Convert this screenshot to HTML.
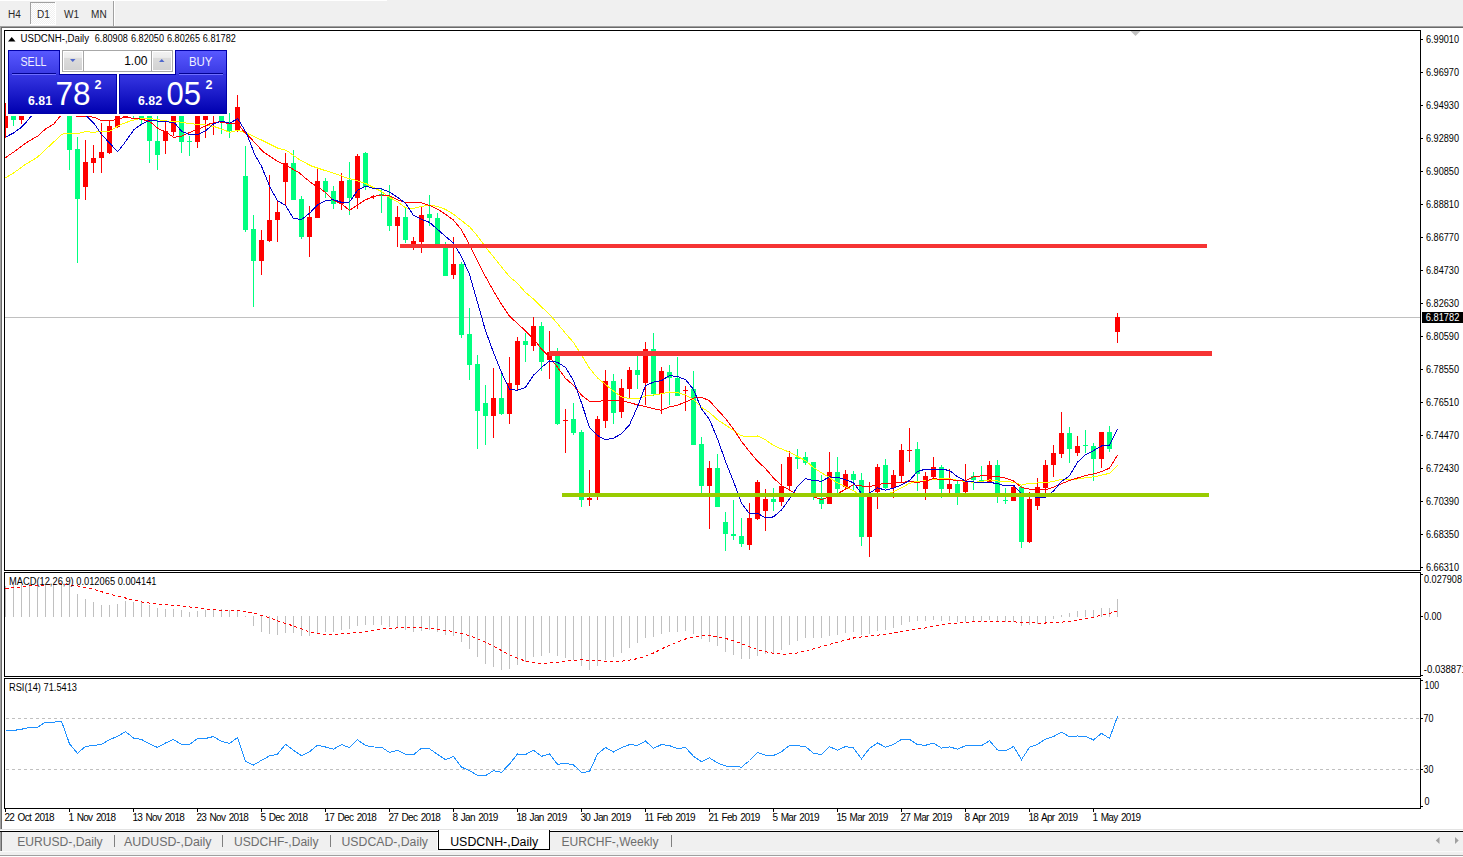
<!DOCTYPE html><html><head><meta charset="utf-8"><title>USDCNH-,Daily</title><style>html,body{margin:0;padding:0;background:#f0f0f0;overflow:hidden}svg{display:block}text{font-family:"Liberation Sans",Arial,sans-serif}</style></head><body>
<svg width="1463" height="857" viewBox="0 0 1463 857">
<defs><pattern id="dith" width="2" height="2" patternUnits="userSpaceOnUse"><rect width="2" height="2" fill="#f0f0f0"/><rect width="1" height="1" fill="#fff"/><rect x="1" y="1" width="1" height="1" fill="#fff"/></pattern><linearGradient id="gbtn" x1="0" y1="0" x2="0" y2="1"><stop offset="0" stop-color="#5858ff"/><stop offset="1" stop-color="#3a3ae4"/></linearGradient><linearGradient id="gbox" x1="0" y1="0" x2="0" y2="1"><stop offset="0" stop-color="#3636e2"/><stop offset="1" stop-color="#0000b0"/></linearGradient><linearGradient id="gspin" x1="0" y1="0" x2="0" y2="1"><stop offset="0" stop-color="#f2f2f2"/><stop offset="0.3" stop-color="#ececec"/><stop offset="0.34" stop-color="#dcdcdc"/><stop offset="1" stop-color="#d2d2d2"/></linearGradient><clipPath id="cmain"><rect x="5" y="31" width="1415" height="539"/></clipPath><clipPath id="cmacd"><rect x="5" y="573" width="1415" height="103"/></clipPath><clipPath id="crsi"><rect x="5" y="679" width="1415" height="129"/></clipPath></defs>
<g shape-rendering="crispEdges">
<rect x="0" y="0" width="1463" height="857" fill="#f0f0f0"/>
<rect x="0" y="0" width="387" height="1" fill="#fff"/>
<rect x="30" y="2" width="26" height="22" fill="url(#dith)"/>
<rect x="30" y="2" width="25" height="1" fill="#a0a0a0"/><rect x="30" y="2" width="1" height="22" fill="#a0a0a0"/>
<rect x="55" y="2" width="1" height="23" fill="#fff"/><rect x="30" y="24" width="26" height="1" fill="#fff"/>
<rect x="113" y="1" width="1" height="25" fill="#a0a0a0"/><rect x="114" y="1" width="1" height="25" fill="#fff"/>
</g>
<text x="8" y="18" font-size="10" fill="#2a2a2a" letter-spacing="0.1">H4</text>
<text x="37" y="18" font-size="10" fill="#2a2a2a" letter-spacing="0.1">D1</text>
<text x="64" y="18" font-size="10" fill="#2a2a2a" letter-spacing="0.1">W1</text>
<text x="91" y="18" font-size="10" fill="#2a2a2a" letter-spacing="0.1">MN</text>
<g shape-rendering="crispEdges">
<rect x="0" y="26" width="1463" height="1" fill="#a0a0a0"/><rect x="0" y="27" width="1463" height="1" fill="#696969"/>
<rect x="0" y="26" width="1" height="803" fill="#a0a0a0"/><rect x="1" y="27" width="1" height="802" fill="#696969"/>
<rect x="2" y="28" width="1461" height="801" fill="#fff"/>
<rect x="4" y="30" width="1417" height="1" fill="#000"/><rect x="4" y="570" width="1417" height="1" fill="#000"/>
<rect x="4" y="30" width="1" height="541" fill="#000"/><rect x="1420" y="30" width="1" height="541" fill="#000"/>
<rect x="4" y="572" width="1417" height="1" fill="#000"/><rect x="4" y="676" width="1417" height="1" fill="#000"/>
<rect x="4" y="572" width="1" height="105" fill="#000"/><rect x="1420" y="572" width="1" height="105" fill="#000"/>
<rect x="4" y="678" width="1417" height="1" fill="#000"/><rect x="4" y="808" width="1417" height="1" fill="#000"/>
<rect x="4" y="678" width="1" height="131" fill="#000"/><rect x="1420" y="678" width="1" height="131" fill="#000"/>
</g>
<g clip-path="url(#cmain)">
<rect x="5" y="317" width="1415" height="1" fill="#c0c0c0" shape-rendering="crispEdges"/>
<g shape-rendering="crispEdges">
<rect x="5" y="103" width="1" height="35" fill="#ff0000"/>
<rect x="3" y="116" width="5" height="12" fill="#ff0000"/>
<rect x="13" y="98" width="1" height="28" fill="#00ff7f"/>
<rect x="11" y="100" width="5" height="20" fill="#00ff7f"/>
<rect x="21" y="98" width="1" height="26" fill="#ff0000"/>
<rect x="19" y="100" width="5" height="20" fill="#ff0000"/>
<rect x="29" y="96" width="1" height="14" fill="#00ff7f"/>
<rect x="27" y="99" width="5" height="7" fill="#00ff7f"/>
<rect x="37" y="95" width="1" height="14" fill="#ff0000"/>
<rect x="35" y="98" width="5" height="6" fill="#ff0000"/>
<rect x="45" y="92" width="1" height="16" fill="#00ff7f"/>
<rect x="43" y="96" width="5" height="7" fill="#00ff7f"/>
<rect x="53" y="94" width="1" height="13" fill="#ff0000"/>
<rect x="51" y="97" width="5" height="5" fill="#ff0000"/>
<rect x="61" y="93" width="1" height="13" fill="#00ff7f"/>
<rect x="59" y="95" width="5" height="6" fill="#00ff7f"/>
<rect x="69" y="90" width="1" height="80" fill="#00ff7f"/>
<rect x="67" y="95" width="5" height="55" fill="#00ff7f"/>
<rect x="77" y="137" width="1" height="126" fill="#00ff7f"/>
<rect x="75" y="149" width="5" height="50" fill="#00ff7f"/>
<rect x="85" y="140" width="1" height="60" fill="#ff0000"/>
<rect x="83" y="162" width="5" height="25" fill="#ff0000"/>
<rect x="93" y="145" width="1" height="28" fill="#ff0000"/>
<rect x="91" y="158" width="5" height="5" fill="#ff0000"/>
<rect x="101" y="123" width="1" height="50" fill="#ff0000"/>
<rect x="99" y="152" width="5" height="6" fill="#ff0000"/>
<rect x="109" y="120" width="1" height="34" fill="#ff0000"/>
<rect x="107" y="126" width="5" height="27" fill="#ff0000"/>
<rect x="117" y="100" width="1" height="28" fill="#ff0000"/>
<rect x="115" y="105" width="5" height="22" fill="#ff0000"/>
<rect x="125" y="108" width="1" height="10" fill="#ff0000"/>
<rect x="123" y="113" width="5" height="4" fill="#ff0000"/>
<rect x="133" y="100" width="1" height="18" fill="#00ff7f"/>
<rect x="131" y="105" width="5" height="10" fill="#00ff7f"/>
<rect x="141" y="100" width="1" height="25" fill="#00ff7f"/>
<rect x="139" y="105" width="5" height="15" fill="#00ff7f"/>
<rect x="149" y="100" width="1" height="63" fill="#00ff7f"/>
<rect x="147" y="105" width="5" height="36" fill="#00ff7f"/>
<rect x="157" y="116" width="1" height="54" fill="#00ff7f"/>
<rect x="155" y="141" width="5" height="14" fill="#00ff7f"/>
<rect x="165" y="122" width="1" height="32" fill="#ff0000"/>
<rect x="163" y="131" width="5" height="10" fill="#ff0000"/>
<rect x="173" y="100" width="1" height="36" fill="#ff0000"/>
<rect x="171" y="105" width="5" height="27" fill="#ff0000"/>
<rect x="181" y="100" width="1" height="53" fill="#00ff7f"/>
<rect x="179" y="110" width="5" height="32" fill="#00ff7f"/>
<rect x="189" y="136" width="1" height="20" fill="#00ff7f"/>
<rect x="187" y="141" width="5" height="1" fill="#00ff7f"/>
<rect x="197" y="100" width="1" height="48" fill="#ff0000"/>
<rect x="195" y="110" width="5" height="32" fill="#ff0000"/>
<rect x="205" y="100" width="1" height="38" fill="#ff0000"/>
<rect x="203" y="105" width="5" height="15" fill="#ff0000"/>
<rect x="213" y="98" width="1" height="37" fill="#ff0000"/>
<rect x="211" y="100" width="5" height="10" fill="#ff0000"/>
<rect x="221" y="100" width="1" height="34" fill="#00ff7f"/>
<rect x="219" y="105" width="5" height="16" fill="#00ff7f"/>
<rect x="229" y="113" width="1" height="25" fill="#00ff7f"/>
<rect x="227" y="124" width="5" height="7" fill="#00ff7f"/>
<rect x="237" y="95" width="1" height="37" fill="#ff0000"/>
<rect x="235" y="107" width="5" height="23" fill="#ff0000"/>
<rect x="245" y="146" width="1" height="86" fill="#00ff7f"/>
<rect x="243" y="176" width="5" height="54" fill="#00ff7f"/>
<rect x="253" y="215" width="1" height="92" fill="#00ff7f"/>
<rect x="251" y="229" width="5" height="32" fill="#00ff7f"/>
<rect x="261" y="230" width="1" height="45" fill="#ff0000"/>
<rect x="259" y="240" width="5" height="21" fill="#ff0000"/>
<rect x="269" y="175" width="1" height="67" fill="#ff0000"/>
<rect x="267" y="220" width="5" height="21" fill="#ff0000"/>
<rect x="277" y="201" width="1" height="41" fill="#ff0000"/>
<rect x="275" y="212" width="5" height="8" fill="#ff0000"/>
<rect x="285" y="153" width="1" height="53" fill="#ff0000"/>
<rect x="283" y="163" width="5" height="19" fill="#ff0000"/>
<rect x="293" y="150" width="1" height="50" fill="#00ff7f"/>
<rect x="291" y="163" width="5" height="37" fill="#00ff7f"/>
<rect x="301" y="196" width="1" height="43" fill="#00ff7f"/>
<rect x="299" y="199" width="5" height="38" fill="#00ff7f"/>
<rect x="309" y="206" width="1" height="51" fill="#ff0000"/>
<rect x="307" y="217" width="5" height="20" fill="#ff0000"/>
<rect x="317" y="167" width="1" height="51" fill="#ff0000"/>
<rect x="315" y="181" width="5" height="37" fill="#ff0000"/>
<rect x="325" y="178" width="1" height="20" fill="#00ff7f"/>
<rect x="323" y="181" width="5" height="11" fill="#00ff7f"/>
<rect x="333" y="186" width="1" height="23" fill="#00ff7f"/>
<rect x="331" y="191" width="5" height="13" fill="#00ff7f"/>
<rect x="341" y="173" width="1" height="37" fill="#ff0000"/>
<rect x="339" y="181" width="5" height="23" fill="#ff0000"/>
<rect x="349" y="162" width="1" height="53" fill="#00ff7f"/>
<rect x="347" y="180" width="5" height="18" fill="#00ff7f"/>
<rect x="357" y="154" width="1" height="55" fill="#ff0000"/>
<rect x="355" y="156" width="5" height="42" fill="#ff0000"/>
<rect x="365" y="152" width="1" height="38" fill="#00ff7f"/>
<rect x="363" y="153" width="5" height="34" fill="#00ff7f"/>
<rect x="373" y="195" width="1" height="4" fill="#ff0000"/>
<rect x="371" y="196" width="5" height="1" fill="#ff0000"/>
<rect x="381" y="189" width="1" height="24" fill="#00ff7f"/>
<rect x="379" y="194" width="5" height="2" fill="#00ff7f"/>
<rect x="389" y="185" width="1" height="46" fill="#00ff7f"/>
<rect x="387" y="196" width="5" height="30" fill="#00ff7f"/>
<rect x="397" y="206" width="1" height="41" fill="#ff0000"/>
<rect x="395" y="217" width="5" height="9" fill="#ff0000"/>
<rect x="405" y="208" width="1" height="35" fill="#00ff7f"/>
<rect x="403" y="217" width="5" height="23" fill="#00ff7f"/>
<rect x="413" y="237" width="1" height="13" fill="#ff0000"/>
<rect x="411" y="241" width="5" height="3" fill="#ff0000"/>
<rect x="421" y="207" width="1" height="46" fill="#ff0000"/>
<rect x="419" y="215" width="5" height="27" fill="#ff0000"/>
<rect x="429" y="195" width="1" height="31" fill="#00ff7f"/>
<rect x="427" y="214" width="5" height="4" fill="#00ff7f"/>
<rect x="437" y="213" width="1" height="35" fill="#00ff7f"/>
<rect x="435" y="218" width="5" height="27" fill="#00ff7f"/>
<rect x="445" y="242" width="1" height="34" fill="#00ff7f"/>
<rect x="443" y="247" width="5" height="29" fill="#00ff7f"/>
<rect x="453" y="237" width="1" height="42" fill="#ff0000"/>
<rect x="451" y="264" width="5" height="11" fill="#ff0000"/>
<rect x="461" y="262" width="1" height="76" fill="#00ff7f"/>
<rect x="459" y="264" width="5" height="71" fill="#00ff7f"/>
<rect x="469" y="308" width="1" height="72" fill="#00ff7f"/>
<rect x="467" y="334" width="5" height="31" fill="#00ff7f"/>
<rect x="477" y="355" width="1" height="94" fill="#00ff7f"/>
<rect x="475" y="364" width="5" height="47" fill="#00ff7f"/>
<rect x="485" y="385" width="1" height="60" fill="#00ff7f"/>
<rect x="483" y="403" width="5" height="13" fill="#00ff7f"/>
<rect x="493" y="368" width="1" height="70" fill="#ff0000"/>
<rect x="491" y="398" width="5" height="18" fill="#ff0000"/>
<rect x="501" y="372" width="1" height="43" fill="#00ff7f"/>
<rect x="499" y="398" width="5" height="16" fill="#00ff7f"/>
<rect x="509" y="357" width="1" height="67" fill="#ff0000"/>
<rect x="507" y="383" width="5" height="31" fill="#ff0000"/>
<rect x="517" y="337" width="1" height="53" fill="#ff0000"/>
<rect x="515" y="341" width="5" height="44" fill="#ff0000"/>
<rect x="525" y="333" width="1" height="29" fill="#00ff7f"/>
<rect x="523" y="341" width="5" height="4" fill="#00ff7f"/>
<rect x="533" y="317" width="1" height="34" fill="#ff0000"/>
<rect x="531" y="326" width="5" height="20" fill="#ff0000"/>
<rect x="541" y="322" width="1" height="49" fill="#00ff7f"/>
<rect x="539" y="326" width="5" height="36" fill="#00ff7f"/>
<rect x="549" y="331" width="1" height="48" fill="#ff0000"/>
<rect x="547" y="352" width="5" height="8" fill="#ff0000"/>
<rect x="557" y="348" width="1" height="77" fill="#00ff7f"/>
<rect x="555" y="356" width="5" height="68" fill="#00ff7f"/>
<rect x="565" y="409" width="1" height="44" fill="#ff0000"/>
<rect x="563" y="420" width="5" height="1" fill="#ff0000"/>
<rect x="573" y="403" width="1" height="32" fill="#00ff7f"/>
<rect x="571" y="419" width="5" height="14" fill="#00ff7f"/>
<rect x="581" y="430" width="1" height="77" fill="#00ff7f"/>
<rect x="579" y="432" width="5" height="68" fill="#00ff7f"/>
<rect x="589" y="470" width="1" height="36" fill="#ff0000"/>
<rect x="587" y="498" width="5" height="2" fill="#ff0000"/>
<rect x="597" y="416" width="1" height="84" fill="#ff0000"/>
<rect x="595" y="419" width="5" height="78" fill="#ff0000"/>
<rect x="605" y="370" width="1" height="58" fill="#ff0000"/>
<rect x="603" y="381" width="5" height="40" fill="#ff0000"/>
<rect x="613" y="374" width="1" height="50" fill="#00ff7f"/>
<rect x="611" y="381" width="5" height="32" fill="#00ff7f"/>
<rect x="621" y="379" width="1" height="39" fill="#ff0000"/>
<rect x="619" y="388" width="5" height="24" fill="#ff0000"/>
<rect x="629" y="367" width="1" height="31" fill="#ff0000"/>
<rect x="627" y="370" width="5" height="19" fill="#ff0000"/>
<rect x="637" y="356" width="1" height="33" fill="#00ff7f"/>
<rect x="635" y="370" width="5" height="5" fill="#00ff7f"/>
<rect x="645" y="342" width="1" height="63" fill="#ff0000"/>
<rect x="643" y="349" width="5" height="34" fill="#ff0000"/>
<rect x="653" y="333" width="1" height="63" fill="#00ff7f"/>
<rect x="651" y="349" width="5" height="45" fill="#00ff7f"/>
<rect x="661" y="367" width="1" height="47" fill="#ff0000"/>
<rect x="659" y="371" width="5" height="23" fill="#ff0000"/>
<rect x="669" y="365" width="1" height="40" fill="#00ff7f"/>
<rect x="667" y="372" width="5" height="6" fill="#00ff7f"/>
<rect x="677" y="357" width="1" height="39" fill="#00ff7f"/>
<rect x="675" y="378" width="5" height="18" fill="#00ff7f"/>
<rect x="685" y="386" width="1" height="25" fill="#ff0000"/>
<rect x="683" y="390" width="5" height="1" fill="#ff0000"/>
<rect x="693" y="371" width="1" height="74" fill="#00ff7f"/>
<rect x="691" y="389" width="5" height="56" fill="#00ff7f"/>
<rect x="701" y="437" width="1" height="56" fill="#00ff7f"/>
<rect x="699" y="444" width="5" height="42" fill="#00ff7f"/>
<rect x="709" y="461" width="1" height="68" fill="#ff0000"/>
<rect x="707" y="468" width="5" height="18" fill="#ff0000"/>
<rect x="717" y="454" width="1" height="53" fill="#00ff7f"/>
<rect x="715" y="468" width="5" height="39" fill="#00ff7f"/>
<rect x="725" y="512" width="1" height="39" fill="#00ff7f"/>
<rect x="723" y="522" width="5" height="12" fill="#00ff7f"/>
<rect x="733" y="500" width="1" height="40" fill="#00ff7f"/>
<rect x="731" y="534" width="5" height="2" fill="#00ff7f"/>
<rect x="741" y="518" width="1" height="29" fill="#00ff7f"/>
<rect x="739" y="536" width="5" height="8" fill="#00ff7f"/>
<rect x="749" y="503" width="1" height="47" fill="#ff0000"/>
<rect x="747" y="518" width="5" height="27" fill="#ff0000"/>
<rect x="757" y="480" width="1" height="40" fill="#ff0000"/>
<rect x="755" y="482" width="5" height="37" fill="#ff0000"/>
<rect x="765" y="489" width="1" height="42" fill="#ff0000"/>
<rect x="763" y="499" width="5" height="12" fill="#ff0000"/>
<rect x="773" y="488" width="1" height="23" fill="#00ff7f"/>
<rect x="771" y="499" width="5" height="3" fill="#00ff7f"/>
<rect x="781" y="464" width="1" height="42" fill="#ff0000"/>
<rect x="779" y="486" width="5" height="16" fill="#ff0000"/>
<rect x="789" y="451" width="1" height="38" fill="#ff0000"/>
<rect x="787" y="457" width="5" height="29" fill="#ff0000"/>
<rect x="797" y="449" width="1" height="20" fill="#00ff7f"/>
<rect x="795" y="457" width="5" height="2" fill="#00ff7f"/>
<rect x="805" y="452" width="1" height="13" fill="#00ff7f"/>
<rect x="803" y="457" width="5" height="6" fill="#00ff7f"/>
<rect x="813" y="462" width="1" height="38" fill="#00ff7f"/>
<rect x="811" y="462" width="5" height="33" fill="#00ff7f"/>
<rect x="821" y="475" width="1" height="34" fill="#00ff7f"/>
<rect x="819" y="498" width="5" height="6" fill="#00ff7f"/>
<rect x="829" y="452" width="1" height="52" fill="#ff0000"/>
<rect x="827" y="472" width="5" height="32" fill="#ff0000"/>
<rect x="837" y="457" width="1" height="36" fill="#00ff7f"/>
<rect x="835" y="472" width="5" height="17" fill="#00ff7f"/>
<rect x="845" y="470" width="1" height="19" fill="#ff0000"/>
<rect x="843" y="474" width="5" height="13" fill="#ff0000"/>
<rect x="853" y="471" width="1" height="19" fill="#00ff7f"/>
<rect x="851" y="474" width="5" height="6" fill="#00ff7f"/>
<rect x="861" y="473" width="1" height="73" fill="#00ff7f"/>
<rect x="859" y="480" width="5" height="57" fill="#00ff7f"/>
<rect x="869" y="482" width="1" height="75" fill="#ff0000"/>
<rect x="867" y="493" width="5" height="44" fill="#ff0000"/>
<rect x="877" y="464" width="1" height="45" fill="#ff0000"/>
<rect x="875" y="467" width="5" height="25" fill="#ff0000"/>
<rect x="885" y="459" width="1" height="30" fill="#00ff7f"/>
<rect x="883" y="465" width="5" height="23" fill="#00ff7f"/>
<rect x="893" y="470" width="1" height="28" fill="#ff0000"/>
<rect x="891" y="475" width="5" height="13" fill="#ff0000"/>
<rect x="901" y="444" width="1" height="38" fill="#ff0000"/>
<rect x="899" y="450" width="5" height="26" fill="#ff0000"/>
<rect x="909" y="428" width="1" height="34" fill="#ff0000"/>
<rect x="907" y="450" width="5" height="1" fill="#ff0000"/>
<rect x="917" y="442" width="1" height="49" fill="#00ff7f"/>
<rect x="915" y="449" width="5" height="25" fill="#00ff7f"/>
<rect x="925" y="472" width="1" height="28" fill="#ff0000"/>
<rect x="923" y="476" width="5" height="13" fill="#ff0000"/>
<rect x="933" y="457" width="1" height="22" fill="#ff0000"/>
<rect x="931" y="467" width="5" height="10" fill="#ff0000"/>
<rect x="941" y="465" width="1" height="33" fill="#00ff7f"/>
<rect x="939" y="467" width="5" height="22" fill="#00ff7f"/>
<rect x="949" y="469" width="1" height="24" fill="#ff0000"/>
<rect x="947" y="484" width="5" height="5" fill="#ff0000"/>
<rect x="957" y="481" width="1" height="24" fill="#00ff7f"/>
<rect x="955" y="484" width="5" height="9" fill="#00ff7f"/>
<rect x="965" y="464" width="1" height="29" fill="#ff0000"/>
<rect x="963" y="481" width="5" height="11" fill="#ff0000"/>
<rect x="973" y="472" width="1" height="18" fill="#00ff7f"/>
<rect x="971" y="476" width="5" height="4" fill="#00ff7f"/>
<rect x="981" y="466" width="1" height="17" fill="#00ff7f"/>
<rect x="979" y="480" width="5" height="1" fill="#00ff7f"/>
<rect x="989" y="461" width="1" height="22" fill="#ff0000"/>
<rect x="987" y="465" width="5" height="17" fill="#ff0000"/>
<rect x="997" y="460" width="1" height="43" fill="#00ff7f"/>
<rect x="995" y="465" width="5" height="32" fill="#00ff7f"/>
<rect x="1005" y="488" width="1" height="16" fill="#00ff7f"/>
<rect x="1003" y="500" width="5" height="1" fill="#00ff7f"/>
<rect x="1013" y="485" width="1" height="16" fill="#ff0000"/>
<rect x="1011" y="487" width="5" height="14" fill="#ff0000"/>
<rect x="1021" y="485" width="1" height="63" fill="#00ff7f"/>
<rect x="1019" y="487" width="5" height="55" fill="#00ff7f"/>
<rect x="1029" y="492" width="1" height="51" fill="#ff0000"/>
<rect x="1027" y="499" width="5" height="43" fill="#ff0000"/>
<rect x="1037" y="478" width="1" height="32" fill="#ff0000"/>
<rect x="1035" y="487" width="5" height="19" fill="#ff0000"/>
<rect x="1045" y="460" width="1" height="33" fill="#ff0000"/>
<rect x="1043" y="465" width="5" height="23" fill="#ff0000"/>
<rect x="1053" y="445" width="1" height="32" fill="#ff0000"/>
<rect x="1051" y="453" width="5" height="12" fill="#ff0000"/>
<rect x="1061" y="412" width="1" height="46" fill="#ff0000"/>
<rect x="1059" y="433" width="5" height="21" fill="#ff0000"/>
<rect x="1069" y="427" width="1" height="36" fill="#00ff7f"/>
<rect x="1067" y="433" width="5" height="16" fill="#00ff7f"/>
<rect x="1077" y="436" width="1" height="20" fill="#ff0000"/>
<rect x="1075" y="446" width="5" height="7" fill="#ff0000"/>
<rect x="1085" y="430" width="1" height="23" fill="#00ff7f"/>
<rect x="1083" y="445" width="5" height="1" fill="#00ff7f"/>
<rect x="1093" y="443" width="1" height="38" fill="#00ff7f"/>
<rect x="1091" y="446" width="5" height="13" fill="#00ff7f"/>
<rect x="1101" y="432" width="1" height="36" fill="#ff0000"/>
<rect x="1099" y="432" width="5" height="27" fill="#ff0000"/>
<rect x="1109" y="426" width="1" height="26" fill="#00ff7f"/>
<rect x="1107" y="432" width="5" height="17" fill="#00ff7f"/>
<rect x="1117" y="313" width="1" height="30" fill="#ff0000"/>
<rect x="1115" y="317" width="5" height="15" fill="#ff0000"/>
</g>
<g shape-rendering="crispEdges">
<polyline points="5.5,177.7 12.8,173.6 25.1,164.6 37.4,157.2 49.7,145.7 62.0,134.3 66.1,133.4 78.4,133.4 86.6,131.4 91.5,132.4 98.9,131.8 109.6,131.4 118.6,125.6 121.4,124.4 130.3,120.9 139.2,118.7 148.1,118.2 156.9,119.6 165.8,120.9 179.2,121.8 188.1,123.4 196.9,124.3 205.8,124.9 214.7,126.7 223.6,129.8 229.8,132.4 237.8,130.2 246.5,133.1 262.3,140.4 278.0,148.3 286.4,150.4 299.0,159.3 310.9,165.8 322.8,169.8 341.0,175.6 345.5,177.6 355.3,180.0 366.7,184.1 381.5,191.5 389.5,197.5 397.5,201.6 405.5,207.9 413.5,208.4 421.5,206.3 429.5,205.2 437.5,206.4 445.5,209.4 453.5,214.2 461.5,220.6 469.5,226.7 477.5,236.0 485.5,247.1 493.5,256.9 501.5,266.9 509.5,276.6 517.5,283.4 525.5,292.4 533.5,299.0 541.5,306.9 549.5,314.3 557.5,323.7 565.5,333.3 573.5,342.5 581.5,354.9 589.5,368.3 597.5,377.9 605.5,384.4 613.5,391.0 621.5,396.9 629.5,398.5 637.5,399.0 645.5,396.1 653.5,395.0 661.5,393.8 669.5,392.0 677.5,392.6 685.5,394.9 693.5,399.7 701.5,407.3 709.5,412.4 717.5,419.8 725.5,425.0 733.5,430.5 741.5,435.9 749.5,436.7 757.5,436.0 765.5,439.8 773.5,445.5 781.5,448.9 789.5,452.2 797.5,456.5 805.5,460.6 813.5,467.6 821.5,472.8 829.5,477.6 837.5,482.9 845.5,486.6 853.5,490.9 861.5,495.3 869.5,495.6 877.5,495.6 885.5,494.7 893.5,491.8 901.5,487.8 909.5,483.3 917.5,481.2 925.5,480.9 933.5,479.4 941.5,478.8 949.5,478.7 957.5,480.4 965.5,481.5 973.5,482.3 981.5,481.6 989.5,479.8 997.5,481.0 1005.5,481.6 1013.5,482.2 1021.5,485.1 1029.5,483.3 1037.5,483.0 1045.5,482.9 1053.5,481.3 1061.5,479.3 1069.5,479.2 1077.5,479.0 1085.5,477.7 1093.5,476.9 1101.5,475.2 1109.5,473.3 1117.5,465.4" fill="none" stroke="#ffff00" stroke-width="1" />
<polyline points="5.5,157.6 12.8,152.7 21.0,146.6 29.2,140.8 37.4,136.3 45.6,128.9 53.8,124.0 60.4,116.0 68.5,108.0 76.8,116.2 86.6,116.2 94.8,117.4 100.6,120.3 112.5,120.4 120.5,118.2 125.8,117.3 132.1,118.2 139.2,118.7 148.1,120.9 152.5,123.6 157.8,128.4 165.8,132.0 173.8,137.3 181.8,136.0 189.8,132.4 197.8,129.3 205.8,125.8 210.3,123.6 219.2,121.8 229.8,123.6 237.8,123.6 242.5,129.8 251.8,139.4 263.3,151.9 278.2,161.8 285.1,164.8 299.0,172.7 310.9,182.7 318.8,187.6 325.5,192.5 333.5,200.2 341.5,203.8 349.5,210.3 357.5,205.0 365.5,199.8 373.5,196.6 381.5,194.9 389.5,195.9 397.5,199.7 405.5,202.6 413.5,202.9 421.5,202.8 429.5,205.4 437.5,209.1 445.5,214.2 453.5,220.1 461.5,229.9 469.5,244.9 477.5,260.9 485.5,276.6 493.5,291.0 501.5,304.4 509.5,316.2 517.5,323.5 525.5,330.9 533.5,338.8 541.5,349.1 549.5,356.7 557.5,367.3 565.5,378.4 573.5,385.4 581.5,395.1 589.5,401.3 597.5,401.5 605.5,400.3 613.5,400.3 621.5,400.6 629.5,402.7 637.5,404.8 645.5,406.5 653.5,408.8 661.5,410.2 669.5,406.9 677.5,405.2 685.5,402.1 693.5,398.1 701.5,397.3 709.5,400.8 717.5,409.8 725.5,418.4 733.5,429.0 741.5,441.4 749.5,451.6 757.5,461.1 765.5,468.6 773.5,477.9 781.5,485.6 789.5,490.0 797.5,494.9 805.5,496.2 813.5,496.9 821.5,499.5 829.5,496.9 837.5,493.7 845.5,489.3 853.5,484.7 861.5,486.0 869.5,486.8 877.5,484.5 885.5,483.5 893.5,482.8 901.5,482.3 909.5,481.6 917.5,482.4 925.5,481.1 933.5,478.5 941.5,479.7 949.5,479.4 957.5,480.7 965.5,480.8 973.5,476.7 981.5,475.9 989.5,475.8 997.5,476.4 1005.5,478.2 1013.5,480.9 1021.5,487.4 1029.5,489.2 1037.5,490.0 1045.5,489.8 1053.5,487.3 1061.5,483.7 1069.5,480.5 1077.5,478.0 1085.5,475.6 1093.5,473.9 1101.5,471.6 1109.5,468.2 1117.5,455.1" fill="none" stroke="#ff0000" stroke-width="1" />
<polyline points="5.5,137.1 12.8,133.4 21.0,127.7 24.3,124.4 28.4,119.5 31.3,116.0 45.5,105.0 70.5,105.0 86.6,116.0 94.8,124.4 101.4,134.3 112.5,146.2 117.8,151.6 124.1,143.6 133.8,129.8 141.8,124.0 148.1,120.9 155.2,120.9 162.3,121.3 170.3,122.2 174.7,123.1 181.8,131.6 188.9,134.2 197.8,134.7 205.8,130.7 213.8,123.6 221.8,121.3 229.8,123.1 237.8,118.7 246.5,133.1 254.9,155.1 261.3,165.8 270.2,187.6 277.5,200.7 285.5,205.3 293.5,218.5 301.5,219.5 309.5,213.3 317.5,204.9 325.5,200.8 333.5,199.7 341.5,202.3 349.5,202.0 357.5,190.4 365.5,186.2 373.5,188.3 381.5,188.9 389.5,192.1 397.5,197.2 405.5,203.2 413.5,215.4 421.5,219.3 429.5,222.4 437.5,229.4 445.5,236.4 453.5,243.1 461.5,256.7 469.5,274.4 477.5,302.4 485.5,330.7 493.5,352.5 501.5,372.4 509.5,389.4 517.5,390.3 525.5,387.4 533.5,375.2 541.5,367.5 549.5,360.9 557.5,362.3 565.5,367.5 573.5,380.5 581.5,402.8 589.5,427.3 597.5,435.5 605.5,439.7 613.5,438.2 621.5,433.7 629.5,424.8 637.5,406.8 645.5,385.6 653.5,382.1 661.5,380.6 669.5,375.6 677.5,376.6 685.5,379.5 693.5,389.5 701.5,408.9 709.5,419.5 717.5,438.9 725.5,461.3 733.5,481.3 741.5,503.3 749.5,513.8 757.5,513.3 765.5,517.8 773.5,516.9 781.5,510.0 789.5,498.8 797.5,486.6 805.5,478.7 813.5,480.5 821.5,481.2 829.5,476.9 837.5,477.4 845.5,479.7 853.5,482.8 861.5,493.4 869.5,493.1 877.5,487.9 885.5,490.1 893.5,488.2 901.5,484.8 909.5,480.5 917.5,471.5 925.5,469.1 933.5,469.1 941.5,469.2 949.5,470.5 957.5,476.7 965.5,481.1 973.5,482.0 981.5,482.7 989.5,482.4 997.5,483.6 1005.5,486.0 1013.5,485.1 1021.5,493.8 1029.5,496.5 1037.5,497.3 1045.5,497.3 1053.5,491.0 1061.5,481.3 1069.5,475.9 1077.5,462.2 1085.5,454.7 1093.5,450.6 1101.5,446.0 1109.5,445.3 1117.5,428.8" fill="none" stroke="#0000cd" stroke-width="1" />
</g>
<g shape-rendering="crispEdges">
<rect x="400" y="244" width="807" height="4" fill="#f63434"/>
<rect x="549" y="351" width="663" height="5" fill="#f63434"/>
<rect x="562" y="493" width="647" height="4" fill="#99cc00"/>
</g>
<polygon points="1130.5,31 1140.5,31 1135.5,36" fill="#c0c0c0"/>
</g>
<g clip-path="url(#cmacd)">
<g shape-rendering="crispEdges" fill="#c0c0c0">
<rect x="5" y="586" width="1" height="31"/>
<rect x="13" y="585" width="1" height="32"/>
<rect x="21" y="585" width="1" height="32"/>
<rect x="29" y="584" width="1" height="33"/>
<rect x="37" y="584" width="1" height="33"/>
<rect x="45" y="584" width="1" height="33"/>
<rect x="53" y="584" width="1" height="33"/>
<rect x="61" y="584" width="1" height="33"/>
<rect x="69" y="584" width="1" height="33"/>
<rect x="77" y="594" width="1" height="23"/>
<rect x="85" y="599" width="1" height="18"/>
<rect x="93" y="602" width="1" height="15"/>
<rect x="101" y="605" width="1" height="12"/>
<rect x="109" y="605" width="1" height="12"/>
<rect x="117" y="604" width="1" height="13"/>
<rect x="125" y="601" width="1" height="16"/>
<rect x="133" y="602" width="1" height="15"/>
<rect x="141" y="602" width="1" height="15"/>
<rect x="149" y="605" width="1" height="12"/>
<rect x="157" y="608" width="1" height="9"/>
<rect x="165" y="609" width="1" height="8"/>
<rect x="173" y="609" width="1" height="8"/>
<rect x="181" y="610" width="1" height="7"/>
<rect x="189" y="612" width="1" height="5"/>
<rect x="197" y="611" width="1" height="6"/>
<rect x="205" y="610" width="1" height="7"/>
<rect x="213" y="609" width="1" height="8"/>
<rect x="221" y="609" width="1" height="8"/>
<rect x="229" y="610" width="1" height="7"/>
<rect x="237" y="610" width="1" height="7"/>
<rect x="245" y="616" width="1" height="1"/>
<rect x="253" y="616" width="1" height="10"/>
<rect x="261" y="616" width="1" height="16"/>
<rect x="269" y="616" width="1" height="18"/>
<rect x="277" y="616" width="1" height="19"/>
<rect x="285" y="616" width="1" height="17"/>
<rect x="293" y="616" width="1" height="17"/>
<rect x="301" y="616" width="1" height="20"/>
<rect x="309" y="616" width="1" height="20"/>
<rect x="317" y="616" width="1" height="18"/>
<rect x="325" y="616" width="1" height="16"/>
<rect x="333" y="616" width="1" height="16"/>
<rect x="341" y="616" width="1" height="14"/>
<rect x="349" y="616" width="1" height="13"/>
<rect x="357" y="616" width="1" height="10"/>
<rect x="365" y="616" width="1" height="9"/>
<rect x="373" y="616" width="1" height="9"/>
<rect x="381" y="616" width="1" height="9"/>
<rect x="389" y="616" width="1" height="11"/>
<rect x="397" y="616" width="1" height="12"/>
<rect x="405" y="616" width="1" height="14"/>
<rect x="413" y="616" width="1" height="16"/>
<rect x="421" y="616" width="1" height="15"/>
<rect x="429" y="616" width="1" height="14"/>
<rect x="437" y="616" width="1" height="16"/>
<rect x="445" y="616" width="1" height="19"/>
<rect x="453" y="616" width="1" height="20"/>
<rect x="461" y="616" width="1" height="26"/>
<rect x="469" y="616" width="1" height="33"/>
<rect x="477" y="616" width="1" height="41"/>
<rect x="485" y="616" width="1" height="48"/>
<rect x="493" y="616" width="1" height="51"/>
<rect x="501" y="616" width="1" height="54"/>
<rect x="509" y="616" width="1" height="53"/>
<rect x="517" y="616" width="1" height="49"/>
<rect x="525" y="616" width="1" height="46"/>
<rect x="533" y="616" width="1" height="41"/>
<rect x="541" y="616" width="1" height="40"/>
<rect x="549" y="616" width="1" height="37"/>
<rect x="557" y="616" width="1" height="40"/>
<rect x="565" y="616" width="1" height="42"/>
<rect x="573" y="616" width="1" height="44"/>
<rect x="581" y="616" width="1" height="50"/>
<rect x="589" y="616" width="1" height="54"/>
<rect x="597" y="616" width="1" height="50"/>
<rect x="605" y="616" width="1" height="44"/>
<rect x="613" y="616" width="1" height="41"/>
<rect x="621" y="616" width="1" height="37"/>
<rect x="629" y="616" width="1" height="32"/>
<rect x="637" y="616" width="1" height="27"/>
<rect x="645" y="616" width="1" height="22"/>
<rect x="653" y="616" width="1" height="21"/>
<rect x="661" y="616" width="1" height="18"/>
<rect x="669" y="616" width="1" height="16"/>
<rect x="677" y="616" width="1" height="16"/>
<rect x="685" y="616" width="1" height="15"/>
<rect x="693" y="616" width="1" height="18"/>
<rect x="701" y="616" width="1" height="23"/>
<rect x="709" y="616" width="1" height="26"/>
<rect x="717" y="616" width="1" height="30"/>
<rect x="725" y="616" width="1" height="36"/>
<rect x="733" y="616" width="1" height="39"/>
<rect x="741" y="616" width="1" height="43"/>
<rect x="749" y="616" width="1" height="43"/>
<rect x="757" y="616" width="1" height="40"/>
<rect x="765" y="616" width="1" height="38"/>
<rect x="773" y="616" width="1" height="37"/>
<rect x="781" y="616" width="1" height="34"/>
<rect x="789" y="616" width="1" height="29"/>
<rect x="797" y="616" width="1" height="25"/>
<rect x="805" y="616" width="1" height="22"/>
<rect x="813" y="616" width="1" height="22"/>
<rect x="821" y="616" width="1" height="22"/>
<rect x="829" y="616" width="1" height="20"/>
<rect x="837" y="616" width="1" height="19"/>
<rect x="845" y="616" width="1" height="17"/>
<rect x="853" y="616" width="1" height="16"/>
<rect x="861" y="616" width="1" height="19"/>
<rect x="869" y="616" width="1" height="18"/>
<rect x="877" y="616" width="1" height="15"/>
<rect x="885" y="616" width="1" height="14"/>
<rect x="893" y="616" width="1" height="12"/>
<rect x="901" y="616" width="1" height="9"/>
<rect x="909" y="616" width="1" height="6"/>
<rect x="917" y="616" width="1" height="5"/>
<rect x="925" y="616" width="1" height="5"/>
<rect x="933" y="616" width="1" height="4"/>
<rect x="941" y="616" width="1" height="5"/>
<rect x="949" y="616" width="1" height="5"/>
<rect x="957" y="616" width="1" height="6"/>
<rect x="965" y="616" width="1" height="6"/>
<rect x="973" y="616" width="1" height="5"/>
<rect x="981" y="616" width="1" height="5"/>
<rect x="989" y="616" width="1" height="4"/>
<rect x="997" y="616" width="1" height="5"/>
<rect x="1005" y="616" width="1" height="6"/>
<rect x="1013" y="616" width="1" height="6"/>
<rect x="1021" y="616" width="1" height="10"/>
<rect x="1029" y="616" width="1" height="9"/>
<rect x="1037" y="616" width="1" height="8"/>
<rect x="1045" y="616" width="1" height="6"/>
<rect x="1053" y="616" width="1" height="3"/>
<rect x="1061" y="615" width="1" height="2"/>
<rect x="1069" y="613" width="1" height="4"/>
<rect x="1077" y="611" width="1" height="6"/>
<rect x="1085" y="610" width="1" height="7"/>
<rect x="1093" y="610" width="1" height="7"/>
<rect x="1101" y="608" width="1" height="9"/>
<rect x="1109" y="608" width="1" height="9"/>
<rect x="1117" y="599" width="1" height="18"/>
</g>
<polyline points="5.5,588.5 30.5,585.9 60.0,583.9 69.5,585.1 77.5,585.9 85.5,587.5 93.5,589.4 101.5,591.7 109.5,594.0 117.5,596.1 125.5,598.0 133.5,600.0 141.5,601.9 149.5,603.1 157.5,604.1 165.5,604.9 173.5,605.3 181.5,605.9 189.5,606.9 197.5,608.0 205.5,608.9 213.5,609.7 221.5,610.2 229.5,610.4 237.5,610.5 245.5,611.4 253.5,613.1 261.5,615.3 269.5,617.9 277.5,620.7 285.5,623.4 293.5,626.0 301.5,628.9 309.5,631.8 317.5,633.7 325.5,634.4 333.5,634.4 341.5,633.9 349.5,633.3 357.5,632.5 365.5,631.6 373.5,630.4 381.5,629.2 389.5,628.4 397.5,627.9 405.5,627.7 413.5,627.8 421.5,628.0 429.5,628.5 437.5,629.2 445.5,630.3 453.5,631.6 461.5,633.3 469.5,635.7 477.5,638.7 485.5,642.2 493.5,646.2 501.5,650.6 509.5,654.8 517.5,658.2 525.5,661.1 533.5,662.7 541.5,663.5 549.5,663.1 557.5,662.3 565.5,661.3 573.5,660.2 581.5,659.8 589.5,660.3 597.5,660.8 605.5,661.1 613.5,661.3 621.5,661.2 629.5,660.2 637.5,658.6 645.5,656.2 653.5,653.0 661.5,649.0 669.5,645.2 677.5,642.0 685.5,639.0 693.5,636.9 701.5,636.0 709.5,635.8 717.5,636.7 725.5,638.4 733.5,640.8 741.5,643.7 749.5,646.7 757.5,649.5 765.5,651.8 773.5,653.3 781.5,654.2 789.5,654.0 797.5,652.9 805.5,651.0 813.5,648.8 821.5,646.5 829.5,644.3 837.5,642.2 845.5,640.0 853.5,638.0 861.5,636.9 869.5,636.0 877.5,635.2 885.5,634.3 893.5,633.1 901.5,631.8 909.5,630.4 917.5,629.0 925.5,627.9 933.5,626.2 941.5,624.8 949.5,623.8 957.5,622.9 965.5,622.2 973.5,621.9 981.5,621.8 989.5,621.6 997.5,621.6 1005.5,621.8 1013.5,621.9 1021.5,622.3 1029.5,622.7 1037.5,623.0 1045.5,623.0 1053.5,622.7 1061.5,622.2 1069.5,621.3 1077.5,620.1 1085.5,618.8 1093.5,617.1 1101.5,615.2 1109.5,613.5 1117.5,610.9" fill="none" stroke="#ff0000" stroke-width="1" stroke-dasharray="3,3" shape-rendering="crispEdges"/>
</g>
<g clip-path="url(#crsi)">
<g shape-rendering="crispEdges"><line x1="6" y1="718.5" x2="1420" y2="718.5" stroke="#c0c0c0" stroke-dasharray="3,3"/><line x1="6" y1="769.5" x2="1420" y2="769.5" stroke="#c0c0c0" stroke-dasharray="3,3"/></g>
<polyline points="5.5,730.5 13.5,730.5 21.5,729.2 29.5,727.6 37.5,727.2 45.5,722.2 53.5,722.2 61.5,721.2 69.5,743.8 77.5,753.3 85.5,746.4 93.5,745.4 101.5,744.4 109.5,739.5 117.5,736.5 125.5,731.5 133.5,738.1 141.5,739.5 149.5,743.8 157.5,747.4 165.5,743.0 173.5,739.5 181.5,744.4 189.5,744.4 197.5,738.5 205.5,738.5 213.5,736.5 221.5,741.4 229.5,743.4 237.5,737.5 245.5,761.3 253.5,765.1 261.5,760.3 269.5,755.9 277.5,754.2 285.5,744.3 293.5,750.3 301.5,755.8 309.5,751.8 317.5,745.2 325.5,747.0 333.5,749.1 341.5,744.6 349.5,747.5 357.5,739.8 365.5,745.5 373.5,747.0 381.5,747.1 389.5,752.5 397.5,750.4 405.5,754.4 413.5,754.7 421.5,748.2 429.5,748.8 437.5,754.3 445.5,759.7 453.5,756.5 461.5,767.1 469.5,770.6 477.5,775.3 485.5,775.7 493.5,770.6 501.5,772.4 509.5,764.0 517.5,754.0 525.5,754.5 533.5,750.3 541.5,756.3 549.5,753.9 557.5,764.3 565.5,763.2 573.5,764.9 581.5,772.4 589.5,771.7 597.5,754.1 605.5,747.4 613.5,752.0 621.5,747.6 629.5,744.6 637.5,745.4 645.5,741.0 653.5,748.4 661.5,744.5 669.5,745.6 677.5,748.6 685.5,747.5 693.5,756.3 701.5,761.7 709.5,757.9 717.5,762.9 725.5,766.0 733.5,766.2 741.5,767.2 749.5,760.5 757.5,752.4 765.5,755.1 773.5,755.5 781.5,751.7 789.5,745.4 797.5,745.7 805.5,746.6 813.5,753.2 821.5,754.8 829.5,746.7 837.5,750.2 845.5,746.6 853.5,748.0 861.5,758.9 869.5,748.4 877.5,743.0 885.5,747.1 893.5,744.4 901.5,739.3 909.5,739.4 917.5,744.7 925.5,745.3 933.5,743.1 941.5,748.1 949.5,746.9 957.5,749.1 965.5,745.7 973.5,745.4 981.5,745.7 989.5,740.7 997.5,750.0 1005.5,750.9 1013.5,746.4 1021.5,759.6 1029.5,747.3 1037.5,744.3 1045.5,739.1 1053.5,736.5 1061.5,732.1 1069.5,736.7 1077.5,736.0 1085.5,736.2 1093.5,740.0 1101.5,733.3 1109.5,738.4 1117.5,716.4" fill="none" stroke="#1e90ff" stroke-width="1" shape-rendering="crispEdges"/>
</g>
<polygon points="8,41.5 15.5,41.5 11.75,37" fill="#000"/>
<text x="20.5" y="41.7" font-size="10" fill="#000" textLength="68.5" lengthAdjust="spacingAndGlyphs">USDCNH-,Daily</text>
<text x="94.8" y="41.7" font-size="10" fill="#000" textLength="33" lengthAdjust="spacingAndGlyphs">6.80908</text>
<text x="131" y="41.7" font-size="10" fill="#000" textLength="33" lengthAdjust="spacingAndGlyphs">6.82050</text>
<text x="167" y="41.7" font-size="10" fill="#000" textLength="33" lengthAdjust="spacingAndGlyphs">6.80265</text>
<text x="202.8" y="41.7" font-size="10" fill="#000" textLength="33" lengthAdjust="spacingAndGlyphs">6.81782</text>
<text x="9" y="584.7" font-size="10" fill="#000" textLength="147.5" lengthAdjust="spacingAndGlyphs">MACD(12,26,9) 0.012065 0.004141</text>
<text x="9" y="690.8" font-size="10" fill="#000" textLength="68" lengthAdjust="spacingAndGlyphs">RSI(14) 71.5413</text>
<g shape-rendering="crispEdges">
<rect x="1421" y="39" width="2" height="1" fill="#000"/>
<rect x="1421" y="72" width="2" height="1" fill="#000"/>
<rect x="1421" y="105" width="2" height="1" fill="#000"/>
<rect x="1421" y="138" width="2" height="1" fill="#000"/>
<rect x="1421" y="171" width="2" height="1" fill="#000"/>
<rect x="1421" y="204" width="2" height="1" fill="#000"/>
<rect x="1421" y="237" width="2" height="1" fill="#000"/>
<rect x="1421" y="270" width="2" height="1" fill="#000"/>
<rect x="1421" y="303" width="2" height="1" fill="#000"/>
<rect x="1421" y="336" width="2" height="1" fill="#000"/>
<rect x="1421" y="369" width="2" height="1" fill="#000"/>
<rect x="1421" y="402" width="2" height="1" fill="#000"/>
<rect x="1421" y="435" width="2" height="1" fill="#000"/>
<rect x="1421" y="468" width="2" height="1" fill="#000"/>
<rect x="1421" y="501" width="2" height="1" fill="#000"/>
<rect x="1421" y="534" width="2" height="1" fill="#000"/>
<rect x="1421" y="567" width="2" height="1" fill="#000"/>
</g>
<text x="1426" y="43" font-size="10" fill="#000" textLength="33" lengthAdjust="spacingAndGlyphs">6.99010</text>
<text x="1426" y="76" font-size="10" fill="#000" textLength="33" lengthAdjust="spacingAndGlyphs">6.96970</text>
<text x="1426" y="109" font-size="10" fill="#000" textLength="33" lengthAdjust="spacingAndGlyphs">6.94930</text>
<text x="1426" y="142" font-size="10" fill="#000" textLength="33" lengthAdjust="spacingAndGlyphs">6.92890</text>
<text x="1426" y="175" font-size="10" fill="#000" textLength="33" lengthAdjust="spacingAndGlyphs">6.90850</text>
<text x="1426" y="208" font-size="10" fill="#000" textLength="33" lengthAdjust="spacingAndGlyphs">6.88810</text>
<text x="1426" y="241" font-size="10" fill="#000" textLength="33" lengthAdjust="spacingAndGlyphs">6.86770</text>
<text x="1426" y="274" font-size="10" fill="#000" textLength="33" lengthAdjust="spacingAndGlyphs">6.84730</text>
<text x="1426" y="307" font-size="10" fill="#000" textLength="33" lengthAdjust="spacingAndGlyphs">6.82630</text>
<text x="1426" y="340" font-size="10" fill="#000" textLength="33" lengthAdjust="spacingAndGlyphs">6.80590</text>
<text x="1426" y="373" font-size="10" fill="#000" textLength="33" lengthAdjust="spacingAndGlyphs">6.78550</text>
<text x="1426" y="406" font-size="10" fill="#000" textLength="33" lengthAdjust="spacingAndGlyphs">6.76510</text>
<text x="1426" y="439" font-size="10" fill="#000" textLength="33" lengthAdjust="spacingAndGlyphs">6.74470</text>
<text x="1426" y="472" font-size="10" fill="#000" textLength="33" lengthAdjust="spacingAndGlyphs">6.72430</text>
<text x="1426" y="505" font-size="10" fill="#000" textLength="33" lengthAdjust="spacingAndGlyphs">6.70390</text>
<text x="1426" y="538" font-size="10" fill="#000" textLength="33" lengthAdjust="spacingAndGlyphs">6.68350</text>
<text x="1426" y="571" font-size="10" fill="#000" textLength="33" lengthAdjust="spacingAndGlyphs">6.66310</text>
<rect x="1422" y="312" width="41" height="11" fill="#000" shape-rendering="crispEdges"/>
<text x="1425.8" y="321.2" font-size="10" fill="#fff" textLength="33.5" lengthAdjust="spacingAndGlyphs">6.81782</text>
<g shape-rendering="crispEdges"><rect x="1421" y="574" width="2" height="1" fill="#000"/><rect x="1421" y="616" width="2" height="1" fill="#000"/><rect x="1421" y="675" width="2" height="1" fill="#000"/><rect x="1421" y="680" width="2" height="1" fill="#000"/><rect x="1421" y="718" width="2" height="1" fill="#000"/><rect x="1421" y="769" width="2" height="1" fill="#000"/><rect x="1421" y="806" width="2" height="1" fill="#000"/></g>
<text x="1424" y="582.8" font-size="10" fill="#000" textLength="38" lengthAdjust="spacingAndGlyphs">0.027908</text>
<text x="1424" y="619.6" font-size="10" fill="#000" textLength="17.5" lengthAdjust="spacingAndGlyphs">0.00</text>
<text x="1423.8" y="673" font-size="10" fill="#000" textLength="43" lengthAdjust="spacingAndGlyphs">-0.038871</text>
<text x="1424.6" y="688.8" font-size="10" fill="#000" textLength="14.5" lengthAdjust="spacingAndGlyphs">100</text>
<text x="1423.5" y="722" font-size="10" fill="#000" textLength="10" lengthAdjust="spacingAndGlyphs">70</text>
<text x="1423.5" y="773" font-size="10" fill="#000" textLength="10" lengthAdjust="spacingAndGlyphs">30</text>
<text x="1424.5" y="805" font-size="10" fill="#000" textLength="5" lengthAdjust="spacingAndGlyphs">0</text>
<g shape-rendering="crispEdges">
<rect x="5" y="809" width="1" height="3" fill="#000"/>
<rect x="69" y="809" width="1" height="3" fill="#000"/>
<rect x="133" y="809" width="1" height="3" fill="#000"/>
<rect x="197" y="809" width="1" height="3" fill="#000"/>
<rect x="261" y="809" width="1" height="3" fill="#000"/>
<rect x="325" y="809" width="1" height="3" fill="#000"/>
<rect x="389" y="809" width="1" height="3" fill="#000"/>
<rect x="453" y="809" width="1" height="3" fill="#000"/>
<rect x="517" y="809" width="1" height="3" fill="#000"/>
<rect x="581" y="809" width="1" height="3" fill="#000"/>
<rect x="645" y="809" width="1" height="3" fill="#000"/>
<rect x="709" y="809" width="1" height="3" fill="#000"/>
<rect x="773" y="809" width="1" height="3" fill="#000"/>
<rect x="837" y="809" width="1" height="3" fill="#000"/>
<rect x="901" y="809" width="1" height="3" fill="#000"/>
<rect x="965" y="809" width="1" height="3" fill="#000"/>
<rect x="1029" y="809" width="1" height="3" fill="#000"/>
<rect x="1093" y="809" width="1" height="3" fill="#000"/>
</g>
<text x="4.4" y="820.8" font-size="10" fill="#000" letter-spacing="-0.7" word-spacing="1.4">22 Oct 2018</text>
<text x="68.4" y="820.8" font-size="10" fill="#000" letter-spacing="-0.7" word-spacing="1.4">1 Nov 2018</text>
<text x="132.4" y="820.8" font-size="10" fill="#000" letter-spacing="-0.7" word-spacing="1.4">13 Nov 2018</text>
<text x="196.4" y="820.8" font-size="10" fill="#000" letter-spacing="-0.7" word-spacing="1.4">23 Nov 2018</text>
<text x="260.4" y="820.8" font-size="10" fill="#000" letter-spacing="-0.7" word-spacing="1.4">5 Dec 2018</text>
<text x="324.4" y="820.8" font-size="10" fill="#000" letter-spacing="-0.7" word-spacing="1.4">17 Dec 2018</text>
<text x="388.4" y="820.8" font-size="10" fill="#000" letter-spacing="-0.7" word-spacing="1.4">27 Dec 2018</text>
<text x="452.4" y="820.8" font-size="10" fill="#000" letter-spacing="-0.7" word-spacing="1.4">8 Jan 2019</text>
<text x="516.4" y="820.8" font-size="10" fill="#000" letter-spacing="-0.7" word-spacing="1.4">18 Jan 2019</text>
<text x="580.4" y="820.8" font-size="10" fill="#000" letter-spacing="-0.7" word-spacing="1.4">30 Jan 2019</text>
<text x="644.4" y="820.8" font-size="10" fill="#000" letter-spacing="-0.7" word-spacing="1.4">11 Feb 2019</text>
<text x="708.4" y="820.8" font-size="10" fill="#000" letter-spacing="-0.7" word-spacing="1.4">21 Feb 2019</text>
<text x="772.4" y="820.8" font-size="10" fill="#000" letter-spacing="-0.7" word-spacing="1.4">5 Mar 2019</text>
<text x="836.4" y="820.8" font-size="10" fill="#000" letter-spacing="-0.7" word-spacing="1.4">15 Mar 2019</text>
<text x="900.4" y="820.8" font-size="10" fill="#000" letter-spacing="-0.7" word-spacing="1.4">27 Mar 2019</text>
<text x="964.4" y="820.8" font-size="10" fill="#000" letter-spacing="-0.7" word-spacing="1.4">8 Apr 2019</text>
<text x="1028.4" y="820.8" font-size="10" fill="#000" letter-spacing="-0.7" word-spacing="1.4">18 Apr 2019</text>
<text x="1092.4" y="820.8" font-size="10" fill="#000" letter-spacing="-0.7" word-spacing="1.4">1 May 2019</text>
<g shape-rendering="crispEdges">
<rect x="0" y="829" width="1463" height="1" fill="#e3e3e3"/>
<rect x="0" y="830" width="1463" height="1" fill="#fff"/>
<rect x="0" y="831" width="1463" height="1" fill="#000"/>
<rect x="0" y="832" width="1463" height="19" fill="#f0f0f0"/>
<rect x="0" y="832" width="1" height="19" fill="#a0a0a0"/><rect x="1" y="832" width="1" height="19" fill="#696969"/>
<rect x="0" y="851" width="1463" height="1" fill="#fafafa"/>
<rect x="0" y="852" width="1463" height="3" fill="#f0f0f0"/>
<rect x="0" y="855" width="1463" height="1" fill="#a0a0a0"/>
<rect x="0" y="856" width="1463" height="1" fill="#fff"/>
<rect x="438" y="830" width="112" height="20" fill="#000"/>
<rect x="439" y="830" width="110" height="19" fill="#fff"/>
<rect x="437" y="832" width="1" height="18" fill="#fff"/>
<rect x="114" y="835" width="1" height="12" fill="#808080"/>
<rect x="222" y="835" width="1" height="12" fill="#808080"/>
<rect x="330" y="835" width="1" height="12" fill="#808080"/>
<rect x="671" y="835" width="1" height="12" fill="#808080"/>
</g>
<text x="17.2" y="845.8" font-size="12" fill="#6d6d6d" textLength="85.5" lengthAdjust="spacingAndGlyphs">EURUSD-,Daily</text>
<text x="124" y="845.8" font-size="12" fill="#6d6d6d" textLength="87.5" lengthAdjust="spacingAndGlyphs">AUDUSD-,Daily</text>
<text x="234" y="845.8" font-size="12" fill="#6d6d6d" textLength="84.5" lengthAdjust="spacingAndGlyphs">USDCHF-,Daily</text>
<text x="341.5" y="845.8" font-size="12" fill="#6d6d6d" textLength="86.5" lengthAdjust="spacingAndGlyphs">USDCAD-,Daily</text>
<text x="450.2" y="845.8" font-size="12" fill="#000" textLength="88" lengthAdjust="spacingAndGlyphs">USDCNH-,Daily</text>
<text x="561.5" y="845.8" font-size="12" fill="#6d6d6d" textLength="97" lengthAdjust="spacingAndGlyphs">EURCHF-,Weekly</text>
<polygon points="1439.5,837 1439.5,844 1435.8,840.5" fill="#a0a0a0"/>
<polygon points="1455,837 1455,844 1458.7,840.5" fill="#a0a0a0"/>
<g shape-rendering="crispEdges">
<rect x="8" y="44" width="221" height="72" fill="#fff"/>
<rect x="8" y="50" width="52" height="25" fill="#0000a8"/>
<rect x="8" y="74" width="109" height="40" fill="#0000a8"/>
<rect x="9" y="51" width="50" height="23" fill="url(#gbtn)"/>
<rect x="9" y="75" width="107" height="38" fill="url(#gbox)"/>
<rect x="9" y="74" width="50" height="1" fill="#3232dc"/>
<rect x="12" y="73" width="44" height="1" fill="#000090"/>
<rect x="12" y="74" width="44" height="1" fill="#7070ff"/>
<rect x="175" y="50" width="52" height="25" fill="#0000a8"/>
<rect x="119" y="74" width="108" height="40" fill="#0000a8"/>
<rect x="176" y="51" width="50" height="23" fill="url(#gbtn)"/>
<rect x="120" y="75" width="106" height="38" fill="url(#gbox)"/>
<rect x="176" y="74" width="50" height="1" fill="#3232dc"/>
<rect x="179" y="73" width="44" height="1" fill="#000090"/>
<rect x="179" y="74" width="44" height="1" fill="#7070ff"/>
<rect x="62" y="50" width="111" height="22" fill="#a8a8a8"/>
<rect x="63" y="51" width="109" height="20" fill="#fff"/>
<rect x="64" y="52" width="18" height="18" fill="url(#gspin)"/><rect x="83" y="51" width="1" height="20" fill="#a8a8a8"/>
<rect x="153" y="52" width="18" height="18" fill="url(#gspin)"/><rect x="151" y="51" width="1" height="20" fill="#a8a8a8"/>
</g>
<polygon points="70,59 75.5,59 72.75,62" fill="#5068cc"/>
<polygon points="159,62 164.5,62 161.75,59" fill="#5068cc"/>
<text x="147.5" y="65" font-size="12" fill="#000" text-anchor="end">1.00</text>
<text x="20.5" y="65.8" font-size="12" fill="#f0f0ff" textLength="26" lengthAdjust="spacingAndGlyphs">SELL</text>
<text x="188.9" y="65.8" font-size="12" fill="#f0f0ff" textLength="23.5" lengthAdjust="spacingAndGlyphs">BUY</text>
<text x="28" y="104.8" font-size="12" font-weight="bold" fill="#fff" textLength="24" lengthAdjust="spacingAndGlyphs">6.81</text>
<text x="55.5" y="104.8" font-size="33.5" fill="#fff" textLength="35" lengthAdjust="spacingAndGlyphs">78</text>
<text x="94.6" y="89" font-size="12.5" font-weight="bold" fill="#fff">2</text>
<text x="138" y="104.8" font-size="12" font-weight="bold" fill="#fff" textLength="24" lengthAdjust="spacingAndGlyphs">6.82</text>
<text x="166.5" y="104.8" font-size="33.5" fill="#fff" textLength="34.5" lengthAdjust="spacingAndGlyphs">05</text>
<text x="205.6" y="89" font-size="12.5" font-weight="bold" fill="#fff">2</text>
</svg></body></html>
